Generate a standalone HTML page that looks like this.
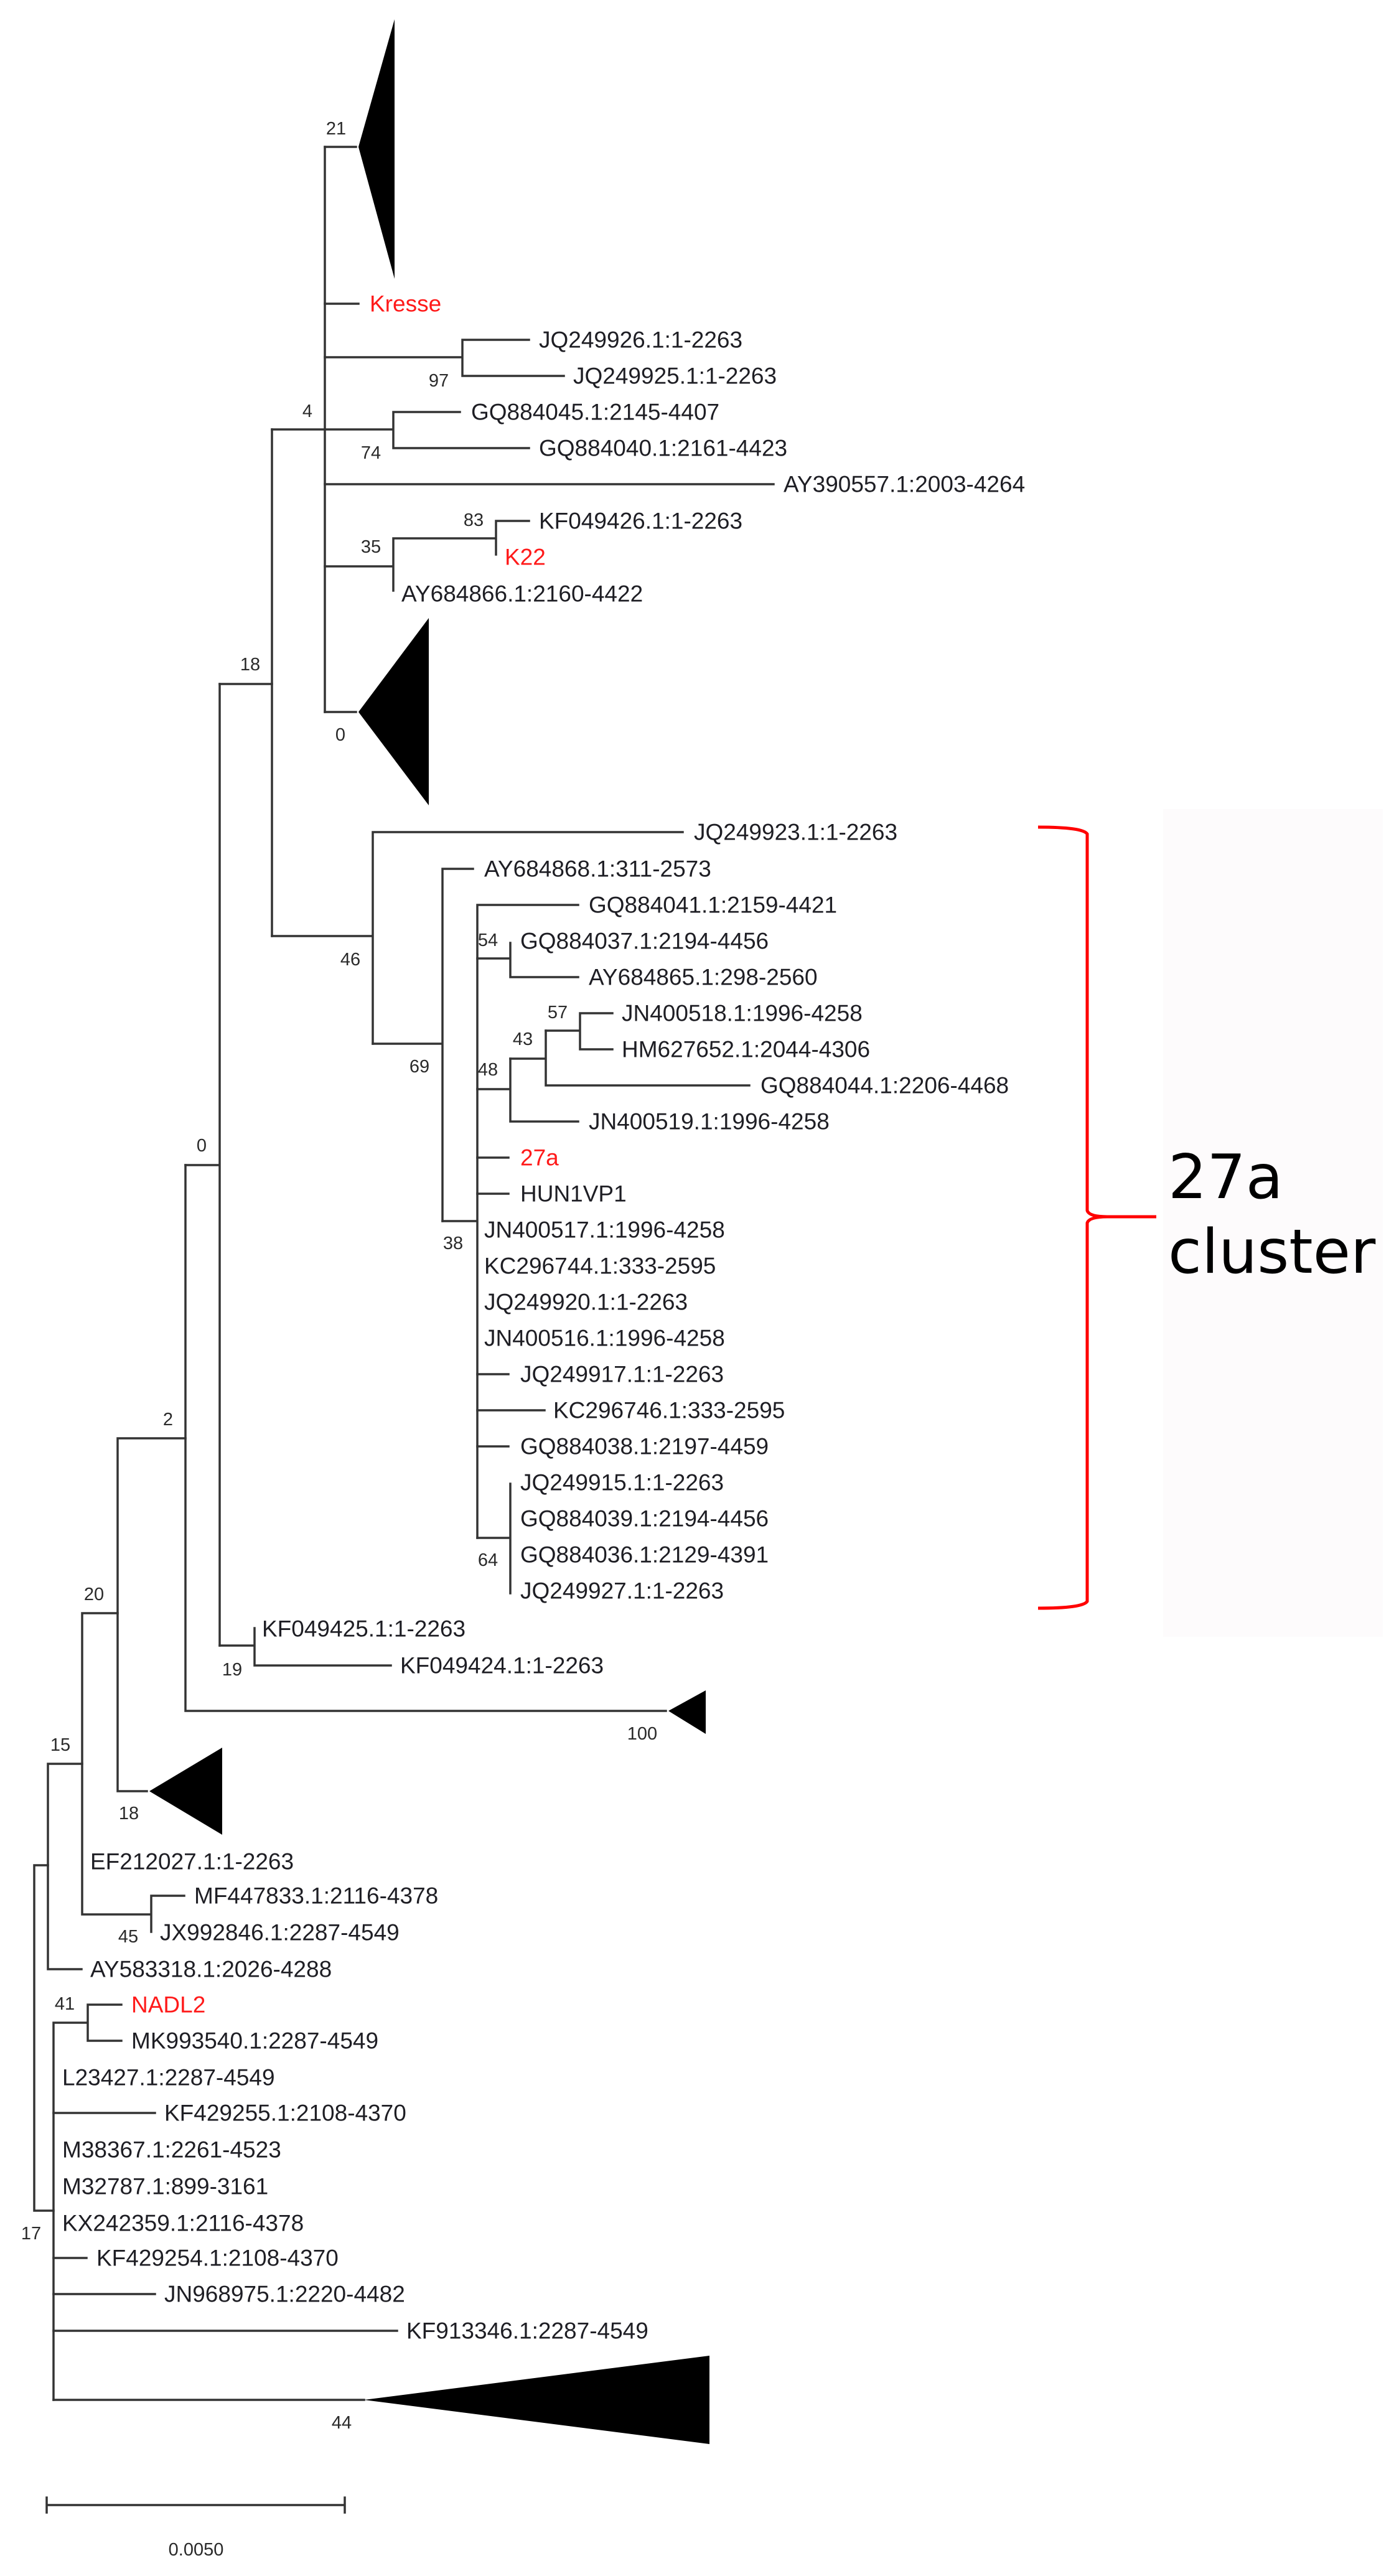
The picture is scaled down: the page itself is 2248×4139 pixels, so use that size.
<!DOCTYPE html>
<html><head><meta charset="utf-8"><style>
html,body{margin:0;padding:0;background:#fff;}
svg{display:block;}
.t{font-family:"Liberation Sans",Arial,sans-serif;font-size:37px;fill:#1e1e24;dominant-baseline:central;}
.r{fill:#ff1a1a;}
.b{font-family:"Liberation Sans",Arial,sans-serif;font-size:29px;fill:#2a2a2a;text-anchor:middle;dominant-baseline:central;}
.big{font-family:"DejaVu Sans",sans-serif;font-size:98px;fill:#000;}
</style></head><body>
<svg width="2248" height="4139" viewBox="0 0 2248 4139" xmlns="http://www.w3.org/2000/svg">
<rect x="1869" y="1300" width="353" height="1330" fill="#fdfbfc"/>
<g stroke="#333" stroke-width="3.5" fill="none" stroke-linecap="square">
<!-- top clade -->
<path d="M522 236V1144"/>
<path d="M522 236H572"/>
<path d="M522 488H576"/>
<path d="M522 574H743M743 546V604M743 546H850M743 604H906"/>
<path d="M437 690H632M632 662V720M632 662H739M632 720H850"/>
<path d="M522 778H1243"/>
<path d="M522 910H632M632 865V949M632 865H797M797 837V891M797 837H850"/>
<path d="M522 1144H572"/>
<path d="M437 690V1504"/>
<path d="M353 1099H437"/>
<!-- 27a cluster -->
<path d="M437 1504H599M599 1337V1677M599 1337H1097"/>
<path d="M599 1677H711M711 1396V1962M711 1396H760"/>
<path d="M711 1962H767M767 1454V2471M767 1454H929"/>
<path d="M767 1540H820M820 1515V1570M820 1570H929"/>
<path d="M767 1750H820M820 1701V1802M820 1802H929"/>
<path d="M820 1701H877M877 1656V1744M877 1744H1204"/>
<path d="M877 1656H932M932 1628V1686M932 1628H984M932 1686H984"/>
<path d="M767 1860H817M767 1918H817"/>
<path d="M767 2208H817M767 2266H875M767 2324H817"/>
<path d="M767 2471H820M820 2384V2560"/>
<!-- lower -->
<path d="M353 1099V2644M298 1872H353"/>
<path d="M353 2644H409M409 2616V2676M409 2676H628"/>
<path d="M298 1872V2749M298 2749H1070"/>
<path d="M189 2311H298M189 2311V2878M189 2878H236"/>
<path d="M133 2592H189M132 2592V3076M132 3076H243M243 3046V3104M243 3046H296"/>
<path d="M77 2834H132M77 2834V3164M77 3164H131"/>
<path d="M55 2997H77M55 2997V3552M55 3552H86"/>
<path d="M86 3250V3856M86 3250H141M141 3221V3279M141 3221H195M141 3279H195"/>
<path d="M86 3395H249M86 3628H139M86 3686H249M86 3745H638M86 3856H585"/>
<path d="M75 4025H554M75 4013V4037M554 4013V4037"/>
</g>
<g fill="#000">
<polygon points="576,236 634,31 634,448"/>
<polygon points="576,1144 689,993 689,1294"/>
<polygon points="1074,2749 1134,2716 1134,2786"/>
<polygon points="240,2878 357,2808 357,2948"/>
<polygon points="585,3856 1140,3785 1140,3927"/>
</g>
<!-- bracket -->
<path d="M1668 1329 Q1740 1329 1747 1340 V1945 Q1750 1955 1780 1955 H1858 M1780 1955 Q1750 1955 1747 1965 V2573 Q1740 2584 1668 2584" stroke="#ff0000" stroke-width="5" fill="none"/>
<text class="big" x="1877" y="1925">27a</text>
<text class="big" x="1877" y="2045">cluster</text>
<!-- labels -->
<text class="t r" x="594" y="488">Kresse</text>
<text class="t" x="866" y="546">JQ249926.1:1-2263</text>
<text class="t" x="921" y="604">JQ249925.1:1-2263</text>
<text class="t" x="757" y="662">GQ884045.1:2145-4407</text>
<text class="t" x="866" y="720">GQ884040.1:2161-4423</text>
<text class="t" x="1259" y="778">AY390557.1:2003-4264</text>
<text class="t" x="866" y="837">KF049426.1:1-2263</text>
<text class="t r" x="811" y="895">K22</text>
<text class="t" x="645" y="954">AY684866.1:2160-4422</text>

<text class="t" x="1115" y="1337">JQ249923.1:1-2263</text>
<text class="t" x="778" y="1396">AY684868.1:311-2573</text>
<text class="t" x="946" y="1454">GQ884041.1:2159-4421</text>
<text class="t" x="836" y="1512">GQ884037.1:2194-4456</text>
<text class="t" x="946" y="1570">AY684865.1:298-2560</text>
<text class="t" x="999" y="1628">JN400518.1:1996-4258</text>
<text class="t" x="999" y="1686">HM627652.1:2044-4306</text>
<text class="t" x="1222" y="1744">GQ884044.1:2206-4468</text>
<text class="t" x="946" y="1802">JN400519.1:1996-4258</text>
<text class="t r" x="836" y="1860">27a</text>
<text class="t" x="836" y="1918">HUN1VP1</text>
<text class="t" x="778" y="1976">JN400517.1:1996-4258</text>
<text class="t" x="778" y="2034">KC296744.1:333-2595</text>
<text class="t" x="778" y="2092">JQ249920.1:1-2263</text>
<text class="t" x="778" y="2150">JN400516.1:1996-4258</text>
<text class="t" x="836" y="2208">JQ249917.1:1-2263</text>
<text class="t" x="889" y="2266">KC296746.1:333-2595</text>
<text class="t" x="836" y="2324">GQ884038.1:2197-4459</text>
<text class="t" x="836" y="2382">JQ249915.1:1-2263</text>
<text class="t" x="836" y="2440">GQ884039.1:2194-4456</text>
<text class="t" x="836" y="2498">GQ884036.1:2129-4391</text>
<text class="t" x="836" y="2556">JQ249927.1:1-2263</text>

<text class="t" x="421" y="2617">KF049425.1:1-2263</text>
<text class="t" x="643" y="2676">KF049424.1:1-2263</text>
<text class="t" x="145" y="2991">EF212027.1:1-2263</text>
<text class="t" x="312" y="3046">MF447833.1:2116-4378</text>
<text class="t" x="257" y="3105">JX992846.1:2287-4549</text>
<text class="t" x="145" y="3164">AY583318.1:2026-4288</text>
<text class="t r" x="211" y="3221">NADL2</text>
<text class="t" x="211" y="3279">MK993540.1:2287-4549</text>
<text class="t" x="100" y="3338">L23427.1:2287-4549</text>
<text class="t" x="264" y="3395">KF429255.1:2108-4370</text>
<text class="t" x="100" y="3454">M38367.1:2261-4523</text>
<text class="t" x="100" y="3513">M32787.1:899-3161</text>
<text class="t" x="100" y="3572">KX242359.1:2116-4378</text>
<text class="t" x="155" y="3628">KF429254.1:2108-4370</text>
<text class="t" x="264" y="3686">JN968975.1:2220-4482</text>
<text class="t" x="653" y="3745">KF913346.1:2287-4549</text>

<!-- bootstrap -->
<text class="b" x="540" y="207">21</text>
<text class="b" x="705" y="612">97</text>
<text class="b" x="494" y="661">4</text>
<text class="b" x="596" y="728">74</text>
<text class="b" x="761" y="836">83</text>
<text class="b" x="596" y="879">35</text>
<text class="b" x="547" y="1181">0</text>
<text class="b" x="402" y="1068">18</text>
<text class="b" x="563" y="1542">46</text>
<text class="b" x="674" y="1714">69</text>
<text class="b" x="728" y="1998">38</text>
<text class="b" x="784" y="1511">54</text>
<text class="b" x="896" y="1627">57</text>
<text class="b" x="840" y="1670">43</text>
<text class="b" x="784" y="1719">48</text>
<text class="b" x="784" y="2507">64</text>
<text class="b" x="324" y="1841">0</text>
<text class="b" x="270" y="2281">2</text>
<text class="b" x="151" y="2562">20</text>
<text class="b" x="373" y="2683">19</text>
<text class="b" x="1032" y="2786">100</text>
<text class="b" x="207" y="2914">18</text>
<text class="b" x="97" y="2804">15</text>
<text class="b" x="206" y="3112">45</text>
<text class="b" x="104" y="3220">41</text>
<text class="b" x="50" y="3589">17</text>
<text class="b" x="549" y="3893">44</text>
<text class="b" x="315" y="4097">0.0050</text>
</svg>
</body></html>
